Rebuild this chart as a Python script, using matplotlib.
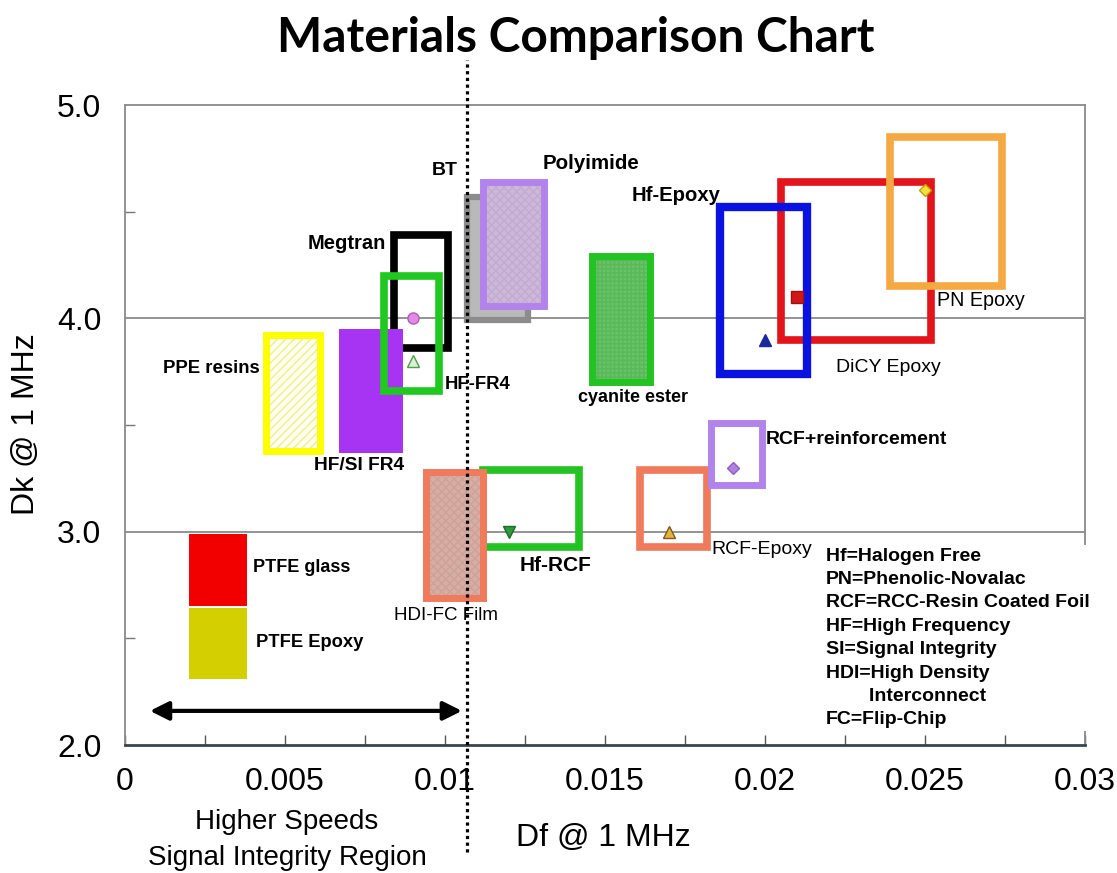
import matplotlib
matplotlib.use('Agg')
import matplotlib.pyplot as plt
from matplotlib.patches import Rectangle

plt.rcParams['font.family'] = ['Liberation Sans', 'DejaVu Sans']
plt.rcParams['hatch.linewidth'] = 1.0

# material windows: Df range (x) and Dk range (y), in drawing order
materials = ['PTFE glass', 'PTFE Epoxy', 'PPE resins', 'Megtran', 'HF/SI FR4', 'HF-FR4',
             'BT', 'Polyimide', 'Hf-RCF', 'HDI-FC Film', 'cyanite ester', 'RCF-Epoxy',
             'RCF+reinforcement', 'DiCY Epoxy', 'Hf-Epoxy', 'PN Epoxy']
df_lo = [0.0020, 0.0020, 0.0044, 0.0084, 0.0067, 0.0081, 0.0107, 0.0112, 0.0112, 0.0094,
         0.0146, 0.0161, 0.0183, 0.0205, 0.0186, 0.0239]
df_hi = [0.0038, 0.0038, 0.0061, 0.0101, 0.0087, 0.0098, 0.0126, 0.0131, 0.0142, 0.0112,
         0.0164, 0.0182, 0.0199, 0.0252, 0.0213, 0.0274]
dk_lo = [2.65, 2.31, 3.38, 3.86, 3.37, 3.66, 3.99, 4.06, 2.93, 2.69, 3.70, 2.93, 3.22, 3.90, 3.74, 4.15]
dk_hi = [2.99, 2.64, 3.92, 4.39, 3.95, 4.20, 4.57, 4.64, 3.29, 3.28, 4.29, 3.29, 3.51, 4.64, 4.52, 4.85]

# typical value markers
point_df = [0.009, 0.009, 0.012, 0.017, 0.019, 0.020, 0.021, 0.025]
point_dk = [4.0, 3.8, 3.0, 3.0, 3.3, 3.9, 4.1, 4.6]

x_ticks = [0, 0.005, 0.01, 0.015, 0.02, 0.025, 0.03]
x_tick_labels = ['0', '0.005', '0.01', '0.015', '0.02', '0.025', '0.03']
y_ticks = [2.0, 3.0, 4.0, 5.0]
y_tick_labels = ['2.0', '3.0', '4.0', '5.0']

notes = ['Hf=Halogen Free', 'PN=Phenolic-Novalac', 'RCF=RCC-Resin Coated Foil',
         'HF=High Frequency', 'SI=Signal Integrity', 'HDI=High Density',
         '        Interconnect', 'FC=Flip-Chip']

# box styles: edge colour, fill, hatch, hatch colour, border width
styles = {
    'PTFE glass':        dict(edge=None, fill='#F20000'),
    'PTFE Epoxy':        dict(edge=None, fill='#D4CF00'),
    'PPE resins':        dict(edge='#FFFF00', fill='#FFFFF0', hatch='////', hcol='#EEEE90', lw=5),
    'Megtran':           dict(edge='#000000', fill='none', lw=5.5),
    'HF/SI FR4':         dict(edge=None, fill='#A634F2'),
    'HF-FR4':            dict(edge='#22C822', fill='none', lw=5.5),
    'BT':                dict(edge='#8C8C8C', fill='#B9B9B9', lw=4.5),
    'Polyimide':         dict(edge='#B383EC', fill='#CDB8DA', hatch='xxxx', hcol='#C2ABCF', lw=5),
    'Hf-RCF':            dict(edge='#22C322', fill='none', lw=5.5),
    'HDI-FC Film':       dict(edge='#F07A5C', fill='#D6AEA4', hatch='xxxx', hcol='#CDA298', lw=5),
    'cyanite ester':     dict(edge='#22C322', fill='#66C466', hatch='++++', hcol='#5AB85A', lw=5),
    'RCF-Epoxy':         dict(edge='#F07A5C', fill='none', lw=5.5),
    'RCF+reinforcement': dict(edge='#B383EC', fill='none', lw=5),
    'DiCY Epoxy':        dict(edge='#E3141B', fill='none', lw=5.5),
    'Hf-Epoxy':          dict(edge='#0A12E2', fill='none', lw=6),
    'PN Epoxy':          dict(edge='#F5A942', fill='none', lw=5.5),
}

# label placement (x, y, weight, size)
labels = {
    'PTFE glass':        (0.0040, 2.83, 'bold', 13),
    'PTFE Epoxy':        (0.0041, 2.48, 'bold', 13.2),
    'PPE resins':        (0.0012, 3.765, 'bold', 13.4),
    'Megtran':           (0.0057, 4.35, 'bold', 14.5),
    'HF/SI FR4':         (0.0059, 3.31, 'bold', 13.8),
    'HF-FR4':            (0.0100, 3.69, 'bold', 13.3),
    'BT':                (0.0096, 4.695, 'bold', 14),
    'Polyimide':         (0.01306, 4.728, 'bold', 14.8),
    'Hf-RCF':            (0.01234, 2.84, 'bold', 15),
    'HDI-FC Film':       (0.0084, 2.606, 'normal', 13.5),
    'cyanite ester':     (0.01416, 3.629, 'bold', 13),
    'RCF-Epoxy':         (0.01834, 2.915, 'normal', 14),
    'RCF+reinforcement': (0.02003, 3.432, 'bold', 14),
    'DiCY Epoxy':        (0.02222, 3.77, 'normal', 14),
    'Hf-Epoxy':          (0.01584, 4.577, 'bold', 14.6),
    'PN Epoxy':          (0.02538, 4.085, 'normal', 14.2),
}

marker_styles = [
    dict(marker='o', ms=8, mfc='#E48AE6', mec='#A860B8'),
    dict(marker='^', ms=8, mfc='#D8F2D0', mec='#4E9E4E'),
    dict(marker='v', ms=8, mfc='#2E9A3A', mec='#1E6A2A'),
    dict(marker='^', ms=8, mfc='#E8B040', mec='#7A5A20'),
    dict(marker='D', ms=6, mfc='#B080E0', mec='#9060C0'),
    dict(marker='^', ms=9, mfc='#1A2A9A', mec='#1A2A9A'),
    dict(marker='s', ms=9, mfc='#D01818', mec='#A01010'),
    dict(marker='D', ms=6, mfc='#F2E040', mec='#C0A000'),
]

fig = plt.figure(figsize=(11.17, 8.73), dpi=100)
ax = fig.add_axes([0.1119, 0.1466, 0.8594, 0.7331])
ax.set_xlim(0, 0.03)
ax.set_ylim(2.0, 5.0)

for i, name in enumerate(materials):
    st = styles[name]
    x0, y0 = df_lo[i], dk_lo[i]
    w, h = df_hi[i] - df_lo[i], dk_hi[i] - dk_lo[i]
    z = 3 + i * 0.1
    if st['edge'] is None:
        ax.add_patch(Rectangle((x0, y0), w, h, facecolor=st['fill'], lw=0, zorder=z))
        continue
    if 'hatch' in st:
        ax.add_patch(Rectangle((x0, y0), w, h, facecolor=st['fill'], edgecolor=st['hcol'],
                               hatch=st['hatch'], lw=0, zorder=z))
    elif st['fill'] != 'none':
        ax.add_patch(Rectangle((x0, y0), w, h, facecolor=st['fill'], lw=0, zorder=z))
    ax.add_patch(Rectangle((x0, y0), w, h, facecolor='none', edgecolor=st['edge'],
                           lw=st['lw'], joinstyle='miter', zorder=z + 0.05))

for name, (lx, ly, wt, sz) in labels.items():
    ax.text(lx, ly, name, fontsize=sz, fontweight=wt, va='center', ha='left', zorder=8)

for px, py, ms in zip(point_df, point_dk, marker_styles):
    ax.plot(px, py, ls='none', zorder=7, **ms)

# grid and frame
ax.set_yticks(y_ticks)
ax.set_yticklabels(y_tick_labels, fontsize=23)
ax.set_yticks([2.5, 3.5, 4.5], minor=True)
ax.set_xticks(x_ticks)
ax.set_xticklabels(x_tick_labels, fontsize=23)
ax.set_xticks([0.0025, 0.0075, 0.0125, 0.0175, 0.0225, 0.0275], minor=True)
ax.tick_params(axis='x', which='both', direction='in', length=7, width=1, color='#555555', pad=16)
ax.tick_params(axis='y', which='major', length=0, pad=17)
ax.tick_params(axis='y', which='minor', direction='in', length=7, width=1, color='#777777')
for yv in [3.0, 4.0]:
    ax.axhline(yv, color='#8A8A8A', lw=1.3, zorder=1)
for side in ['top', 'right', 'left']:
    ax.spines[side].set_color('#8A8A8A')
    ax.spines[side].set_linewidth(1.3)
ax.spines['bottom'].set_color('#3A444C')
ax.spines['bottom'].set_linewidth(2)

# signal integrity region marker
ax.plot([0.01069, 0.01069], [1.50, 5.21], color='black', lw=2.3, ls=(0, (1, 1.1)),
        clip_on=False, zorder=9)
ax.annotate('', xy=(0.01053, 2.16), xytext=(0.00078, 2.16),
            arrowprops=dict(arrowstyle='<|-|>', lw=3, color='black', mutation_scale=28,
                            shrinkA=0, shrinkB=0), zorder=9)

ax.text(0.0219, 2.925, '\n'.join(notes), fontsize=14, fontweight='bold', va='top', ha='left',
        linespacing=1.49, zorder=10, clip_on=False,
        bbox=dict(facecolor='white', edgecolor='none', pad=2))

fig.text(0.5157, 0.957, 'Materials Comparison Chart', fontsize=34.5, fontweight='bold',
         family=['Lato', 'DejaVu Sans'], ha='center', va='center')
fig.text(0.023, 0.514, 'Dk @ 1 MHz', fontsize=23, rotation=90, ha='center', va='center')
fig.text(0.540, 0.040, 'Df @ 1 MHz', fontsize=23, ha='center', va='center')
fig.text(0.257, 0.0584, 'Higher Speeds', fontsize=20, ha='center', va='center')
fig.text(0.257, 0.0172, 'Signal Integrity Region', fontsize=20, ha='center', va='center')

fig.savefig('out.png', dpi=100)
